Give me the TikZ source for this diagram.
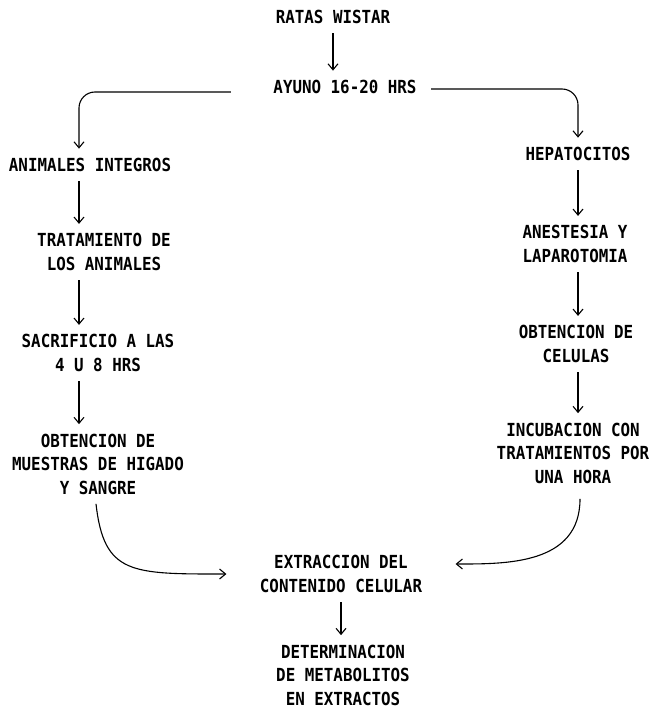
\documentclass[tikz,border=0pt]{standalone}
\usepackage{fontspec}
\newfontfamily\dotfont{DejaVu Sans Mono}[FakeStretch=0.88]
\usetikzlibrary{arrows.meta}

\begin{document}
\begin{tikzpicture}[x=1pt, y=-1pt, line width=1.1pt, >={Straight Barb[length=6pt,width=10pt]},
  lbl/.style={align=center, inner sep=9pt, font=\dotfont\bfseries\fontsize{18}{23.5}\selectfont}]
\useasboundingbox (0,0) rectangle (656,708);
\coordinate (lcol) at (79,0);
\coordinate (rcol) at (578,0);
% top
\node[lbl] (ratas) at (333,17) {RATAS WISTAR};
\node[lbl] (ayuno) at (345,87) {AYUNO 16-20 HRS};
% left column
\node[lbl] (anim) at (90,165) {ANIMALES INTEGROS};
\node[lbl] (trat) at (104,252) {TRATAMIENTO DE\\LOS ANIMALES};
\node[lbl] (sacr) at (98,353) {SACRIFICIO A LAS\\4 U 8 HRS};
\node[lbl] (obtm) at (98,464) {OBTENCION DE\\MUESTRAS DE HIGADO\\Y SANGRE};
% right column
\node[lbl] (hepa) at (578,154) {HEPATOCITOS};
\node[lbl] (anes) at (575,244) {ANESTESIA Y\\LAPAROTOMIA};
\node[lbl] (obtc) at (576,344) {OBTENCION DE\\CELULAS};
\node[lbl] (incu) at (573,453) {INCUBACION CON\\TRATAMIENTOS POR\\UNA HORA};
% bottom
\node[lbl] (extr) at (341,574) {EXTRACCION DEL\\CONTENIDO CELULAR};
\node[lbl] (deter) at (343,675) {DETERMINACION\\DE METABOLITOS\\EN EXTRACTOS};

\draw[->] (ratas.south) -- (ayuno.north -| ratas.south);
\draw[->, rounded corners=16pt] ([xshift=-33pt,yshift=-5pt]ayuno.west) -| (anim.north -| lcol);
\draw[->, rounded corners=16pt] ([xshift=5pt,yshift=-2pt]ayuno.east) -| (hepa.north -| rcol);
\foreach \a/\b in {anim/trat, trat/sacr, sacr/obtm}{
\draw[->] (\a.south -| lcol) -- (\b.north -| lcol);
}
\foreach \a/\b in {hepa/anes, anes/obtc, obtc/incu}{
\draw[->] (\a.south -| rcol) -- (\b.north -| rcol);
}
\draw[->] ([xshift=-2pt]obtm.south) .. controls +(8,71) and +(-95,0) .. ([xshift=-24pt]extr.west);
\draw[->] ([xshift=7pt,yshift=-6pt]incu.south) .. controls +(0,66) and +(50,0) .. ([xshift=24pt,yshift=10pt]extr.east);
\draw[->] (extr.south) -- (deter.north -| extr.south);
\end{tikzpicture}
\end{document}
